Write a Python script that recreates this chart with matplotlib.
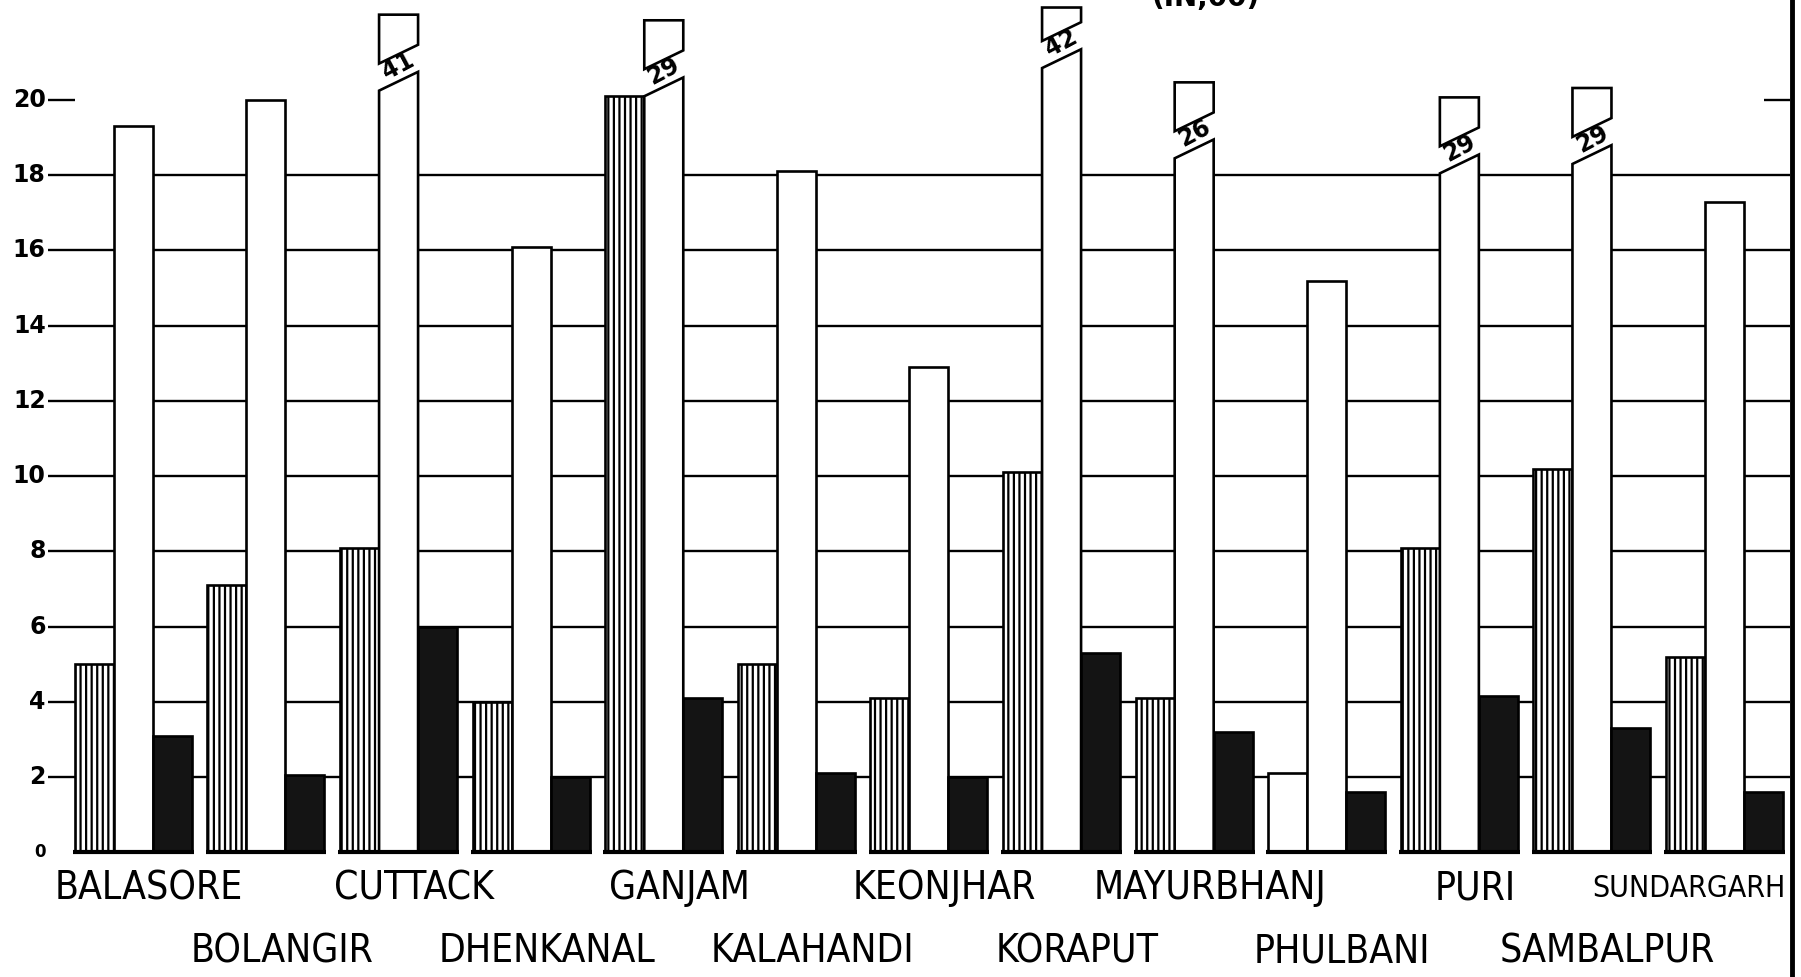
import matplotlib.pyplot as plt
from matplotlib.patches import Polygon
import numpy as np

districts = ['BALASORE', 'BOLANGIR', 'CUTTACK', 'DHENKANAL', 'GANJAM', 'KALAHANDI',
             'KEONJHAR', 'KORAPUT', 'MAYURBHANJ', 'PHULBANI', 'PURI', 'SAMBALPUR',
             'SUNDARGARH']
hatched_vals = [5.0, 7.1, 8.1, 4.0, 20.1, 5.0, 4.1, 10.1, 4.1, 2.1, 8.1, 10.2, 5.2]
white_vals = [19.3, 20.0, 41, 16.1, 29, 18.1, 12.9, 42, 26, 15.2, 29, 29, 17.3]
black_vals = [3.1, 2.05, 6.0, 2.0, 4.1, 2.1, 2.0, 5.3, 3.2, 1.6, 4.15, 3.3, 1.6]
# height the white bar is actually drawn to (bars above the scale are broken)
white_drawn = [19.3, 20.0, 20.5, 16.1, 20.35, 18.1, 12.9, 21.1, 18.7, 15.2, 18.3, 18.55, 17.3]
# hatched bar left empty in the original drawing
no_hatch = ['PHULBANI']
y_ticks = [0, 2, 4, 6, 8, 10, 12, 14, 16, 18, 20]
top_note = '(IN,00)'

plt.rcParams['hatch.linewidth'] = 1.6
lw = 1.9
step = 3.4
w = 1.0
right_edge = 43.97
ymax = 22.66

fig = plt.figure(figsize=(18.01, 9.77), dpi=100)
ax = fig.add_axes([0, 0, 1, 1])
ax.set_xlim(-1.92, 44.26)
ax.set_ylim(-3.32, ymax)
ax.axis('off')

# hand drawn guide lines
for yy in y_ticks[1:-1]:
    ax.hlines(yy, -0.7, right_edge, color='k', lw=1.7, zorder=1)
ax.hlines(20, -0.7, 0.0, color='k', lw=1.7, zorder=1)
ax.hlines(20, 43.3, right_edge, color='k', lw=1.7, zorder=1)
for yy in y_ticks:
    ax.text(-0.75, yy, str(yy), ha='right', va='center', fontsize=17 if yy else 12,
            fontweight='bold', family='DejaVu Sans')

# right frame line
ax.vlines(right_edge + 0.05, -3.4, 22.7, color='k', lw=3.5, zorder=5)

s = 0.5
gap = 0.72
box_h = 1.05
labels = []
for ii, name in enumerate(districts):
    left = ii * step
    ax.bar(left, hatched_vals[ii], width=w, align='edge', facecolor='white',
           edgecolor='k', lw=lw, hatch=None if name in no_hatch else '|||', zorder=3)
    x0 = left + w
    x1 = x0 + w
    h = white_drawn[ii]
    if white_vals[ii] > white_drawn[ii]:
        bar = Polygon([(x0, 0), (x1, 0), (x1, h + s / 2), (x0, h - s / 2)], closed=True,
                      facecolor='white', edgecolor='k', lw=lw, zorder=3)
        ax.add_patch(bar)
        b = h + gap
        top = min(b + box_h, ymax - 0.2)
        box = Polygon([(x0, b - s / 2), (x1, b + s / 2), (x1, top), (x0, top)],
                      closed=True, facecolor='white', edgecolor='k', lw=lw, zorder=3)
        ax.add_patch(box)
        ax.text(x0 + w / 2, h + gap / 2 + 0.05, str(white_vals[ii]), ha='center', va='center',
                rotation=28, fontsize=17, fontweight='bold', zorder=4)
    else:
        ax.bar(x0, white_vals[ii], width=w, align='edge', facecolor='white',
               edgecolor='k', lw=lw, zorder=3)
    ax.bar(left + 2 * w, black_vals[ii], width=w, align='edge', facecolor='#141414',
           edgecolor='k', lw=lw, zorder=3)
    ax.hlines(0, left - 0.05, left + 3 * w + 0.05, color='k', lw=3, zorder=4)

    row_y = -0.96 if ii % 2 == 0 else -2.63
    t = ax.text(left + 1.5 * w + 0.4, row_y, name, ha='center', va='center', fontsize=28,
                family='DejaVu Sans', fontstretch='condensed')
    labels.append((t, left))

ax.text(29.0, 22.33, top_note, ha='center', va='bottom', fontsize=20, fontweight='bold')

# squeeze a label that would run past the right frame, as in the drawing
fig.canvas.draw()
r = fig.canvas.get_renderer()
frame_px = ax.transData.transform((right_edge, 0))[0] - 4
for t, left in labels:
    bb = t.get_window_extent(r)
    if bb.x1 > frame_px:
        start_px = ax.transData.transform((left - 1.9, 0))[0]
        t.set_fontsize(t.get_fontsize() * (frame_px - start_px) / bb.width)
        t.set_horizontalalignment('right')
        t.set_position((right_edge - 0.12, t.get_position()[1]))

plt.savefig('out.png', dpi=100)
